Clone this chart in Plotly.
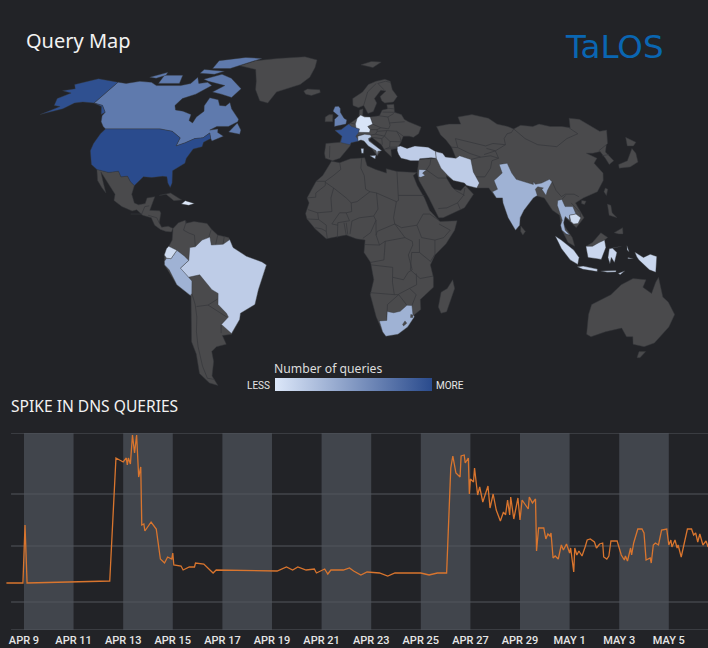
import numpy as np
import plotly.graph_objects as go
from plotly.colors import sample_colorscale
from datetime import datetime, timedelta

# ---- DNS queries line, hours since Apr 9 and relative height (no scale on the original) ----
hours = [-17, -1, 1, 3, 83, 89, 96, 99, 100, 101, 103, 105, 107, 109, 111, 113, 114, 116, 117, 123,
         128, 132, 136, 139, 143, 144, 145, 152, 154, 160, 165, 166, 174, 183, 186, 245, 254, 260, 265, 273,
         281, 283, 291, 294, 297, 309, 315, 319, 326, 332, 344, 352, 359, 384, 392, 400, 409,
         413, 415, 418, 422, 423, 426, 427, 430, 431, 432, 435, 436, 439, 441, 444, 449, 451, 454, 457,
         461, 464, 466, 468, 470, 471, 474, 478, 480, 482, 488, 489, 492, 495, 496, 498, 503, 505, 507, 509,
         510, 512, 514, 517, 520, 522, 525, 528, 529, 532, 533, 535, 537, 540, 543, 545, 548, 552, 554, 557,
         560, 561, 564, 566, 568, 574, 578, 581, 582, 584, 587, 588, 590, 594, 598, 600, 602, 606, 607, 609,
         611, 614, 617, 622, 624, 626, 627, 630, 632, 633, 636, 639, 642, 646, 648, 650, 652, 654, 657, 660, 662]
queries = [47, 47, 105, 47, 49, 172, 168, 172, 165, 172, 166, 195, 177, 195, 153, 163, 105, 106, 99, 108,
           101, 71, 67, 73, 71, 77, 65, 64, 60, 63, 63, 67, 66, 57, 60, 59, 63, 60, 63, 60,
           61, 57, 61, 56, 60, 60, 62, 59, 55, 58, 57, 54, 57, 57, 55, 57, 57,
           162, 174, 157, 153, 174, 175, 167, 172, 136, 151, 148, 162, 135, 143, 128, 144, 122, 136, 120,
           109, 118, 115, 130, 115, 133, 111, 132, 110, 130, 121, 133, 127, 131, 79, 102, 102, 91, 96, 94,
           97, 72, 74, 71, 85, 80, 86, 77, 82, 58, 82, 75, 79, 74, 83, 90, 91, 88, 82, 86,
           87, 73, 71, 74, 89, 89, 75, 70, 74, 69, 82, 75, 87, 101, 101, 97, 70, 72, 67, 85,
           87, 85, 100, 101, 85, 90, 83, 90, 82, 85, 73, 88, 101, 101, 95, 97, 88, 96, 85, 89, 83]
grid_levels = [0, 28, 84, 136, 197]

tick_days = ['2019-04-09', '2019-04-11', '2019-04-13', '2019-04-15', '2019-04-17', '2019-04-19', '2019-04-21',
             '2019-04-23', '2019-04-25', '2019-04-27', '2019-04-29', '2019-05-01', '2019-05-03', '2019-05-05']
tick_labels = ['APR 9', 'APR 11', 'APR 13', 'APR 15', 'APR 17', 'APR 19', 'APR 21',
               'APR 23', 'APR 25', 'APR 27', 'APR 29', 'MAY 1', 'MAY 3', 'MAY 5']
band_starts = tick_days[0::2]
band_ends = tick_days[1::2]

# ---- map outlines, (lon, lat), coarse by hand. Russia and Antarctica are blank on the original ----
canada = [(-141, 69.6), (-135, 69), (-128, 70), (-120, 69.5), (-115, 68), (-108, 68), (-100, 68), (-95, 69), (-94, 72),
          (-90, 69), (-85, 69.5), (-81, 68), (-87, 64), (-93, 62), (-94.5, 59), (-92.5, 57), (-88, 56.5), (-82.5, 55),
          (-82, 52.5), (-79.5, 51.5), (-79, 54), (-76.5, 56.5), (-78, 58.8), (-77.5, 62.4), (-72, 61.5), (-69.5, 59),
          (-66, 58.7), (-64.5, 60.3), (-62, 57.5), (-56, 53), (-56, 52), (-60, 50), (-66, 50), (-69, 48.5), (-65, 49),
          (-64.5, 47.5), (-61, 46), (-66, 44), (-67, 45), (-68.5, 47.3), (-71, 45.3), (-75, 45), (-79, 43.3), (-83, 42),
          (-82.5, 45.3), (-88, 48), (-95, 49), (-123, 49), (-125, 50), (-128, 52), (-130, 54.5), (-130, 56), (-135, 59),
          (-141, 60)]
baffin = [(-80, 73.5), (-72, 71.5), (-62, 66.5), (-65, 62.5), (-72, 64), (-78, 65), (-73, 68), (-85, 70), (-89, 71)]
victoria = [(-117, 73), (-105, 73), (-102, 69), (-115, 69)]
ellesmere = [(-90, 76.5), (-78, 76.5), (-62, 82.5), (-75, 83.2), (-92, 81)]
banks = [(-125, 72), (-117, 74.5), (-116, 73), (-120, 71.5)]
devon = [(-95, 76), (-80, 75), (-85, 73.5), (-95, 74)]
newfoundland = [(-59, 47.7), (-53, 46.8), (-53, 48.5), (-56, 51.5)]
alaska = [(-141, 69.6), (-156.5, 71.3), (-166, 68.5), (-162, 66.5), (-168, 65.6), (-161, 64.5), (-165, 62), (-162, 59),
          (-158, 58.5), (-164, 55), (-155, 57.5), (-152, 60), (-148, 60.5), (-141, 60), (-135, 58.5), (-131, 55),
          (-130, 56), (-135, 59), (-141, 60)]
usa = [(-123, 49), (-95, 49), (-88, 48), (-82.5, 45.3), (-83, 42), (-79, 43.3), (-75, 45), (-71, 45.3), (-68.5, 47.3),
       (-67, 45), (-70, 43.5), (-70, 41.7), (-74, 40.7), (-76, 37), (-76, 35), (-81, 32), (-80, 27), (-80.5, 25.2),
       (-82, 27), (-83, 29.5), (-85, 29.7), (-90, 29.2), (-94, 29.5), (-97.3, 26), (-99.5, 27.5), (-101.5, 29.8),
       (-104.5, 29.5), (-106.5, 31.8), (-111, 31.3), (-117, 32.5), (-120.5, 34.5), (-124, 40), (-124.5, 43), (-124, 47)]
mexico_central = [(-117, 32.5), (-111, 31.3), (-106.5, 31.8), (-104.5, 29.5), (-101.5, 29.8), (-99.5, 27.5), (-97.3, 26),
                  (-97.8, 22.5), (-96, 19), (-94, 18.2), (-91, 18.7), (-90.5, 21), (-87, 21.5), (-88, 18), (-88.5, 16),
                  (-84, 15.8), (-83.3, 14.9), (-83.7, 11), (-82.5, 9.2), (-79.5, 9.6), (-77.3, 8.7), (-78, 7.3),
                  (-80.5, 7.5), (-83, 8.3), (-85.7, 10), (-87.5, 13), (-91.5, 14), (-94.5, 16.2), (-96.5, 15.7),
                  (-101.5, 17.5), (-105.5, 20), (-105.5, 22.5), (-109, 26), (-112.5, 29.5), (-114.7, 31.5), (-112, 27),
                  (-109.8, 23), (-112, 25), (-115, 28)]
greenland = [(-73, 78), (-65, 81), (-50, 82.5), (-30, 83.6), (-20, 81.5), (-20, 77), (-22, 72), (-27, 68.5), (-40, 65),
             (-43, 60), (-48, 61), (-53, 66), (-55, 70), (-60, 76)]
cuba = [(-85, 22), (-80, 23), (-74.5, 20.2), (-78, 19.9), (-82, 22.5)]
hispaniola = [(-74.4, 18.5), (-72.8, 19.9), (-68.5, 18.8), (-71, 18)]

south_america = [(-77.3, 8.7), (-75, 11), (-72, 12), (-71.5, 10.8), (-68, 11.5), (-62, 10.7), (-60, 8.5), (-57, 6), (-52, 5),
                 (-50, 1), (-44, -2.5), (-37, -4.8), (-35, -6), (-37, -11), (-39, -16), (-41, -22), (-48, -25.5),
                 (-48.7, -28), (-53.5, -34), (-58, -34.5), (-57, -38), (-62, -39), (-65, -41), (-65.5, -45), (-69, -51),
                 (-68, -55), (-72, -54), (-75, -50), (-73, -42), (-73.5, -37), (-71.5, -30), (-70, -18.5), (-76, -14),
                 (-81, -6), (-81, -2), (-79, 1.5), (-77.5, 4)]
brazil = [(-73.9, -7.3), (-70, -4.2), (-69.5, 1), (-67, 1.3), (-64, 4), (-60.5, 5.2), (-59.8, 2), (-56, 2), (-54.5, 2.3),
          (-51.5, 4.2), (-50, 1), (-44, -2.5), (-37, -4.8), (-35, -6), (-37, -11), (-39, -16), (-41, -22), (-48, -25.5),
          (-48.7, -28), (-53.5, -33.7), (-57.5, -30), (-53.8, -27), (-54.5, -25.5), (-58, -22), (-57.5, -17.5),
          (-60.2, -16), (-65.3, -10), (-70.5, -11), (-74, -7.5)]
peru = [(-81, -4.5), (-80, -3.3), (-78, -3.5), (-75.3, -0.1), (-72, -2.4), (-70, -4.2), (-73.9, -7.3), (-70.5, -11),
        (-69, -12.5), (-69.5, -17.5), (-70.3, -18.3), (-76, -14), (-79, -8), (-81, -6)]
ecuador = [(-80, -3.3), (-81, -2), (-80, 0.5), (-79, 1.5), (-75.5, 0), (-75.3, -0.1), (-78, -3.5)]

africa = [(-6, 35.8), (-2, 35.2), (3, 36.8), (10, 37.2), (11, 34), (15, 32.5), (20, 31), (20, 32.8), (25, 31.7), (32, 31.2),
          (34.3, 31.2), (32.5, 30), (34, 26), (37, 21), (39, 16), (43, 12), (43.5, 11.5), (51.3, 11.8), (50, 8), (46, 2.5),
          (41, -2), (39, -6), (40.5, -11), (40.7, -15), (35, -20), (35.5, -24), (32.8, -26), (30, -31), (25.7, -34),
          (20, -34.8), (18.3, -33), (15, -27), (12, -18), (13.5, -12), (12, -5), (9, -1), (9.5, 4), (5.5, 4.5), (1, 6),
          (-4, 5.2), (-8, 4.5), (-13, 8.5), (-16.8, 12.5), (-17.5, 14.7), (-16, 19), (-17, 21), (-13, 27.7), (-10, 30)]
south_africa = [(16.5, -28.6), (20, -28.4), (20, -24.8), (23, -25.3), (26, -24.7), (29, -22.3), (31.3, -22.4), (32, -26),
                (32.8, -26.9), (30, -31), (25.7, -34), (20, -34.8), (18.3, -33)]
lesotho = [(27.5, -30), (28.5, -28.6), (29.4, -29.5), (28, -30.6)]
swaziland = [(31, -26), (32, -26.2), (32, -27.2), (31, -27.2)]
madagascar = [(49.3, -12), (50.4, -15.5), (47.5, -24.9), (45, -25.5), (43.5, -23), (44.3, -17), (47, -15.5)]

europe = [(-9, 37), (-9.5, 39), (-9, 43), (-2, 43.5), (-1, 46), (-4.7, 48.4), (-1.5, 48.7), (1.5, 50.5), (4, 52), (8, 54),
          (8.5, 57), (10.5, 57.5), (10, 54.5), (14, 54), (19, 54.5), (21, 57), (24, 57.5), (24, 59.3), (28, 59.5),
          (27.5, 56), (31, 55), (32, 53), (34, 52), (40, 49.8), (38, 47), (35, 45.5), (33, 46), (30, 46), (28, 43), (26, 41),
          (23, 40.5), (23, 37.5), (20, 40), (18.5, 42.5), (14, 45.5), (12.5, 44.5), (18, 40), (16, 38), (12, 43),
          (8.5, 44.5), (3.5, 43.3), (3, 42), (0, 39), (-2, 37), (-5.5, 36)]
scandinavia = [(23, 60), (21.5, 61), (21, 63), (25, 65.5), (22, 65.8), (17.5, 62), (18.5, 60), (16, 56.3), (13, 55.5),
               (11, 59), (8, 58), (5, 59), (5, 62), (11, 65), (15, 68.5), (20, 70), (26, 71), (29, 70), (29, 69), (29, 66),
               (31, 63), (28, 60.5)]
ireland = [(-10, 52), (-6, 52), (-6, 55), (-8, 55), (-10, 54)]
iceland = [(-24, 65.5), (-22, 66.4), (-14.5, 66), (-14, 64.7), (-19, 63.4), (-22.5, 64)]
svalbard = [(12, 78.5), (20, 80.5), (27, 80), (20, 77)]
france = [(-4.7, 48.4), (-1.5, 48.7), (1.5, 50.5), (2.5, 51), (4, 50), (8, 49), (7.5, 47.5), (6, 46), (7.5, 44), (3.5, 43.3),
          (3, 42.5), (-1.7, 43.4), (-1, 46)]
britain = [(-5, 50), (1, 51), (1.5, 52.7), (0, 53.5), (-2, 56), (-2, 57.6), (-3, 58.6), (-5, 58.5), (-6, 56.5), (-3, 54.5),
           (-5, 53), (-5, 51.7)]
germany = [(6, 51), (7, 53.5), (9, 54.8), (11, 54), (14, 54), (15, 51), (12.3, 50), (13.5, 48.7), (13, 47.5), (7.5, 47.6),
           (8, 49), (6.2, 49.5)]
italy = [(7, 44), (7, 46), (10.5, 46.8), (13.5, 46.5), (13.8, 45.7), (12.3, 45), (12.5, 44), (16, 41.7), (18.5, 40),
         (16.5, 39.8), (16, 38), (15.7, 40), (12, 42), (10, 44), (8.5, 44.4)]
sicily = [(12.5, 38), (15.5, 38.2), (15, 36.7)]
sardinia = [(8.3, 41), (9.7, 41), (9.5, 39), (8.5, 39)]

asia = [(53, 41.5), (51, 44.5), (49, 46.5), (48, 50), (55, 51), (61, 51), (61, 54), (69, 55), (77, 53.5), (80, 51), (85, 50),
        (87.5, 49), (92, 50.5), (98, 50), (102, 51), (107, 50), (113, 50), (117, 49.5), (120, 53.5), (125, 53), (131, 48),
        (135, 48.5), (131, 43), (130, 42.5), (127.5, 39.5), (129.5, 36), (126.5, 34.5), (126, 37), (125, 39.7), (121, 39),
        (118, 39), (122, 37), (119.5, 35), (122, 31), (121, 28), (117, 23.5), (110, 21), (106, 19), (109, 13), (105, 9),
        (103, 11), (100, 13.5), (99.5, 10), (103, 5), (104, 1.5), (101, 3), (98.5, 8), (98, 14), (95, 16), (92, 21), (88, 22),
        (82, 16), (80, 13), (79.5, 10), (77.5, 8), (74, 15), (72.8, 21), (70, 21), (67, 25), (61, 25), (57, 26), (56, 27),
        (51, 28), (48, 30), (48, 29), (50, 25.5), (51, 24.5), (54, 24), (56.3, 26), (59.7, 22.5), (55, 17), (45, 13), (43, 13),
        (39, 21), (35, 28), (34.5, 31), (36, 36.5), (44, 37), (44.7, 39.7), (48, 39), (49, 37.5), (54, 37)]
turkey = [(26, 40), (26.3, 41.7), (28, 42), (31, 41), (35, 42), (41.5, 41.5), (44.7, 39.7), (44.5, 37), (42, 37.2),
          (36.5, 36.8), (36, 36), (32, 36), (30, 36.5), (27.5, 37), (26.5, 38.5)]
iran = [(44.7, 39.7), (48, 39), (49, 37.5), (54, 37), (56, 38), (61, 36.5), (61, 31.5), (63, 27), (61.5, 25), (57, 26), (56, 27),
        (51, 28), (48.7, 30), (46, 33), (44.5, 37)]
jordan = [(35, 29.5), (35.5, 32.5), (39, 32.3), (37, 31), (38, 30), (36, 29.3)]
india = [(74, 34.5), (78, 35), (79, 31), (80.5, 28.5), (88, 26.4), (88.2, 27.5), (89, 26.5), (92, 27), (96, 28.5), (97, 27.5),
         (94, 24), (93, 22), (91.5, 24.5), (92.3, 25), (89.8, 25.5), (88.5, 24.5), (89, 22), (87, 21), (82, 16), (80, 13),
         (79.5, 10), (77.5, 8), (74.5, 13), (72.8, 19), (72.8, 21), (70, 21), (68.5, 23.5), (71, 24.5), (70, 28), (74.5, 31)]
thailand = [(98, 10), (99, 12), (98.2, 15), (97.5, 18), (98, 20), (100, 20.4), (101, 17.5), (104.5, 17.5), (105.5, 14.5),
            (102.5, 14), (102.3, 12), (100.5, 13.5), (99.5, 11), (100, 8), (102, 6), (100.3, 6.5), (98.5, 8)]
cambodia = [(102.5, 14), (105.5, 14.5), (107.5, 13), (106, 10.7), (104, 10.5), (102.8, 11.5)]
sumatra = [(95.3, 5.6), (98, 4), (103.5, 0), (106, -3), (105.5, -5.8), (102, -4), (98, 0.5)]
java = [(105.3, -6.8), (108, -6.5), (114.5, -7.7), (114.5, -8.7), (108, -7.8)]
kalimantan = [(109, 1.5), (112, 1.5), (115, 3), (117.5, 4), (118, 1), (116, -3.8), (114, -3.5), (110, -3)]
sabah_sarawak = [(109, 1.5), (112, 3), (116, 7), (119, 5), (117.5, 4), (115, 3), (112, 1.5)]
sulawesi = [(119.5, 0.5), (125, 1.5), (121, 0.7), (123, -1), (122, -5), (120.5, -3), (120, -5.5), (119, -3)]
papua = [(131, -0.8), (135, -3), (138, -1.7), (141, -2.6), (141, -9), (138, -8), (133, -4), (132, -2.8)]
sunda = [(116, -8.5), (119, -8.3), (123, -8.3), (123, -8.9), (119, -9)]
timor = [(124, -9.5), (127, -8.4), (125, -10)]
halmahera = [(127.5, 1.8), (128.5, -0.8), (127.5, 0)]
seram = [(128, -3), (130.5, -3.5), (128, -3.5)]
luzon = [(120.5, 18.5), (122, 18), (122, 15), (124, 13), (120.5, 14)]
mindanao = [(122, 7), (126, 9), (126, 6.5), (124, 6.5)]
honshu = [(130.5, 33), (131, 34.5), (136, 36), (140, 40), (141.5, 41), (142, 39), (140.8, 35.5), (136, 33.5)]
hokkaido = [(140, 42), (142, 45.5), (145.5, 43.5), (143, 42)]
taiwan = [(121, 25), (122, 24.5), (120.8, 22), (120, 23.5)]
sri_lanka = [(80, 9.7), (82, 7.5), (80.7, 6), (79.8, 7.5)]
hainan = [(109, 20), (111, 19.7), (110, 18.3), (108.7, 18.7)]
australia = [(114, -22), (113.5, -26), (115.5, -34), (118, -35), (124, -33), (131, -31.5), (135, -35), (138, -35), (140, -38),
             (146, -39), (150, -37.5), (153, -31), (153.5, -26), (149, -21), (146, -19), (142.5, -11), (141.5, -13),
             (140.5, -17.5), (136, -15), (137, -12), (131, -11.5), (126, -14), (122, -18)]
tasmania = [(145, -41), (148.3, -41), (147.5, -43.5), (146, -43.5)]

# inner borders of the grey countries
borders = [
    [(-71.5, 11.5), (-72.5, 8), (-70, 6.8), (-67.5, 6), (-67, 1.3)], [(-60, 8.3), (-61, 5.2)], [(-57, 6), (-58, 1.5)],
    [(-54, 5.7), (-54.5, 2.3)], [(-69.5, -17.5), (-68.5, -22), (-68.5, -27), (-70, -33), (-71, -39), (-72, -47), (-72, -52), (-68.5, -52.5)],
    [(-68, -22.8), (-62.6, -22.2), (-58, -19.8)], [(-62.6, -22.2), (-57.7, -25.2), (-54.6, -27)], [(-58.4, -33.5), (-57.7, -30.2)],
    [(-97, 14.5), (-92, 14.5), (-91, 17.5), (-89, 17.8)], [(-89, 14), (-85, 13), (-83.7, 11)],
    [(-2, 35), (-1.5, 32.5), (-5, 30), (-8.7, 27.7), (-8.7, 26)], [(-13, 27.7), (-8.7, 27.7)],
    [(-8.7, 27.3), (-4.8, 25), (-6, 21), (-5.5, 15.5), (-12, 15), (-16.5, 16.3)], [(-17, 21), (-13, 21.3), (-13, 23), (-8.7, 26)],
    [(8.5, 37), (8, 33), (9.5, 30), (10, 24.5)], [(-4.8, 25), (1, 21), (3.3, 19), (6, 19.5), (12, 23.5), (10, 24.5)],
    [(25, 31.7), (25, 20), (24, 19.5), (15, 23), (12, 23.5)], [(25, 22), (37, 22)], [(15, 23), (15.5, 16.5), (13.5, 13.7)],
    [(24, 19.5), (22.5, 13), (23, 10.5)], [(3.3, 19), (3.5, 15.5), (1, 15), (-2, 15), (-5.5, 10.5)],
    [(3.6, 11.7), (7, 13), (13.5, 13.7), (14.5, 12), (12, 7), (8.5, 4.7)], [(2.7, 6.4), (3.6, 11.7)],
    [(14.5, 6), (16, 2), (18.5, 3.5), (27.5, 5), (23, 10.5), (15, 7.5), (14.5, 6), (14.5, 12)],
    [(9.5, 2.2), (16, 2)], [(12, -5), (18, -4), (18.6, 3.5)],
    [(12.2, -6), (22, -7), (22, -11), (27, -12), (29, -9), (30.8, -8), (29, -2), (31, 2), (30.8, 3.5), (27.5, 5)],
    [(23, 10.5), (26, 9), (33, 10), (36, 14.5), (39, 14.5), (43, 12)], [(33, 10), (35, 5), (41, 4), (45, 5), (48, 8), (43, 10.5)],
    [(34, 4.4), (34, -1), (39, -4.6), (41, -1.7), (41, 4)], [(34, -1), (30.5, -1), (30, -8), (34.5, -11.5), (40.4, -10.5)],
    [(12, -17.2), (23, -18), (22, -13), (22, -11)], [(23, -18), (25, -18), (20, -22), (20, -28.4)], [(25, -18), (29, -22.3)],
    [(25, -17.8), (30, -15.6), (33, -14), (32.7, -9.5)], [(30, -15.6), (33, -18), (31.3, -22.4)],
    [(-12, 15), (-11.5, 12.3), (-16.8, 12.5)], [(-11.5, 12.3), (-8, 10), (-8, 7.5), (-7.5, 4.5)], [(-13, 9), (-10, 8.5), (-8, 7.5)],
    [(-3, 5), (-2.8, 11), (2.5, 11.8), (1, 15)], [(-5.5, 10.5), (-2.8, 10)], [(1, 6), (0, 11)], [(1.7, 6.2), (1, 11)],
    [(-7, 42), (-7, 37.2)], [(3.5, 51.4), (6, 51)], [(14, 54), (15, 51), (19, 49.5), (23, 49), (24, 50.5), (23.5, 54), (19, 54.5)],
    [(12.3, 50), (15, 51)], [(19, 49.5), (17, 48.7), (13.5, 48.7)], [(9.6, 47.5), (13, 47.5)], [(17, 48.7), (17, 48), (16, 46.8), (13.5, 46.5)],
    [(6, 46), (10.5, 46.8)], [(17, 48), (22, 48.3), (20.5, 46), (16, 46.8)], [(22, 48.3), (27, 48), (28.3, 45.5), (28.5, 43.7), (23, 43.8), (20.5, 46)],
    [(23, 43.8), (22.5, 41.5), (26, 41.5), (28, 42)], [(24, 51.5), (32, 52)], [(27, 48), (30, 46)], [(21, 56.1), (28, 56)], [(24, 57.8), (27.5, 57.5)],
    [(23.5, 54), (27, 55.5)], [(14, 45.5), (19, 45), (20.5, 46)], [(19, 45), (19, 42.5)], [(22.5, 41.5), (20.5, 41), (19.5, 40.5)], [(20.5, 40.8), (26, 41)],
    [(20, 69), (14, 65), (12, 61), (11, 59)], [(24, 66), (21, 69)], [(21, 69), (26, 70), (29, 69.5)],
    [(53, 41.5), (56, 41.3), (56, 45), (61, 44), (66, 43), (70, 42), (74, 43), (80, 42.5), (80.5, 45), (83, 47), (85.5, 47.5), (87.5, 49)],
    [(56, 41.3), (61, 39), (66, 37.5)], [(61, 36.5), (65, 37.3), (71, 38), (74.5, 37), (71, 36), (69.5, 33), (66, 29.5), (61, 29.5)],
    [(74.5, 37), (74, 40), (80, 42.5)], [(70, 41), (74, 40), (68, 38.5)], [(87.5, 49), (91, 45), (96, 42.5), (105, 41.7), (112, 45), (119, 47), (116, 49.8)],
    [(97, 27.5), (98, 24), (100, 21.5), (102, 22.5), (106, 22.5), (108, 21.5)], [(100, 20.4), (102, 22)], [(104, 19), (107.5, 15), (107.5, 13)],
    [(124.5, 40), (130, 42.5)], [(125, 38), (128.5, 38.5)], [(35, 29.5), (39, 32.3), (44, 29), (48, 29)], [(39, 32.3), (41, 34.5), (42, 37.2)],
    [(43, 16.7), (47, 17), (52, 19), (53, 16.5)], [(52, 19), (55, 22), (56, 25)], [(51.5, 24), (55.5, 22)], [(100, 6.5), (102, 6)],
]

grey_land = [mexico_central, greenland, cuba, south_america, africa, madagascar, europe, scandinavia, ireland, iceland, svalbard,
             asia, sabah_sarawak, luzon, mindanao, honshu, hokkaido, taiwan, sri_lanka, hainan, australia, tasmania]
grey_top = [lesotho, swaziland]

# level of each queried area on the colour scale, 0 = less, 1 = more
queried_areas = [canada, baffin, victoria, ellesmere, banks, devon, newfoundland, alaska, usa, brazil, peru, ecuador, south_africa,
                 france, britain, germany, italy, sicily, sardinia, turkey, iran, jordan, india, thailand, cambodia,
                 sumatra, java, kalimantan, sulawesi, papua, sunda, timor, halmahera, seram, hispaniola]
query_levels = [0.7, 0.7, 0.7, 0.7, 0.7, 0.7, 0.7, 0.97, 1.0, 0.17, 0.34, 0.08, 0.34,
                0.95, 0.65, 0.02, 0.2, 0.2, 0.2, 0.17, 0.17, 0.3, 0.34, 0.34, 0.08,
                0.1, 0.1, 0.1, 0.1, 0.1, 0.1, 0.1, 0.1, 0.1, 0.0]

query_scale = [[0, '#dce7f9'], [1, '#2a4b8d']]
bg_color = '#222327'
land_color = '#4a4a4c'
border_color = '#35373b'
band_color = '#41454c'
grid_color = '#53565c'
line_color = '#d9752e'

W, H = 708, 648
# PLEN / PDFE of the Robinson projection, every 5 degrees
rob_lat = np.arange(0, 95, 5)
rob_plen = [1, .9986, .9954, .99, .9822, .973, .96, .9427, .9216, .8962, .8679, .835, .7986, .7597, .7186, .6732, .6213, .5722, .5322]
rob_pdfe = [0, .062, .124, .186, .248, .31, .372, .434, .4958, .5571, .6176, .6769, .7346, .7903, .8435, .8936, .9394, .9761, 1]


def robinson(ring, close=True):
    pts = list(ring) + [ring[0]] if close else list(ring)
    lon = np.array([p[0] for p in pts], dtype=float)
    lat = np.array([p[1] for p in pts], dtype=float)
    x = lon * np.interp(np.abs(lat), rob_lat, rob_plen)
    y = np.sign(lat) * np.interp(np.abs(lat), rob_lat, rob_pdfe)
    return x, y


fig = go.Figure()

for ring in grey_land:
    x, y = robinson(ring)
    fig.add_trace(go.Scatter(x=x, y=y, mode='lines', fill='toself', fillcolor=land_color,
                             line=dict(color=border_color, width=0.5), hoverinfo='skip', showlegend=False))

for line in borders:
    x, y = robinson(line, close=False)
    fig.add_trace(go.Scatter(x=x, y=y, mode='lines', line=dict(color=border_color, width=0.7),
                             hoverinfo='skip', showlegend=False))

for ring, level in zip(queried_areas, query_levels):
    x, y = robinson(ring)
    color = sample_colorscale(query_scale, [level])[0]
    fig.add_trace(go.Scatter(x=x, y=y, mode='lines', fill='toself', fillcolor=color,
                             line=dict(color=border_color, width=0.4), hoverinfo='skip', showlegend=False))

for ring in grey_top:
    x, y = robinson(ring)
    fig.add_trace(go.Scatter(x=x, y=y, mode='lines', fill='toself', fillcolor=land_color,
                             line=dict(color=border_color, width=0.4), hoverinfo='skip', showlegend=False))

# point outside the range, only there to carry the colour bar
fig.add_trace(go.Scatter(x=[0], y=[-5], mode='markers', hoverinfo='skip', showlegend=False,
                         marker=dict(color=[0], cmin=0, cmax=1, colorscale=query_scale, showscale=True,
                                     colorbar=dict(orientation='h', x=275 / W, xanchor='left', y=1 - 391 / H, yanchor='bottom',
                                                   len=157, lenmode='pixels', thickness=13, thicknessmode='pixels',
                                                   showticklabels=False, ticks='', outlinewidth=0, xpad=0, ypad=0))))

base_day = datetime(2019, 4, 9)
dates = [base_day + timedelta(hours=h) for h in hours]
fig.add_trace(go.Scatter(x=dates, y=queries, xaxis='x2', yaxis='y2', mode='lines',
                         line=dict(color=line_color, width=1.3), hoverinfo='skip', showlegend=False))

shapes = []
for start, end in zip(band_starts, band_ends):
    shapes.append(dict(type='rect', xref='x2', yref='y2', x0=start, x1=end, y0=0, y1=197,
                       fillcolor=band_color, line_width=0, layer='below'))
for level in grid_levels:
    shapes.append(dict(type='line', xref='x2', yref='y2', x0=base_day - timedelta(hours=12.5), x1=base_day + timedelta(days=27.6),
                       y0=level, y1=level, line=dict(color=grid_color, width=1), layer='below'))


def text(x, y, s, size, color, family='Noto Sans', anchor='left'):
    return dict(x=x / W, y=1 - y / H, xref='paper', yref='paper', text=s, showarrow=False, xanchor=anchor, yanchor='middle',
                font=dict(size=size, color=color, family=family))


annotations = [
    text(24, 40, 'Query Map', 20, '#f2f2f2'),
    text(563, 47, 'TaLOS', 32.5, '#0a66b2', family='DejaVu Sans'),
    text(272, 368, 'Number of queries', 12.2, '#dddddd'),
    text(272, 385, 'LESS', 10, '#e6e6e6', family='Roboto', anchor='right'),
    text(434, 385, 'MORE', 10, '#e6e6e6', family='Roboto'),
    text(9, 406, 'SPIKE IN DNS QUERIES', 15.6, '#f2f2f2'),
]

fig.update_layout(
    width=W, height=H, margin=dict(l=0, r=0, t=0, b=0),
    paper_bgcolor=bg_color, plot_bgcolor=bg_color, shapes=shapes, annotations=annotations,
    xaxis=dict(visible=False, range=[-344 / 2.22, (W - 344) / 2.22], domain=[0, 1], anchor='y', fixedrange=True),
    yaxis=dict(visible=False, range=[-0.75, 1.25], domain=[1 - 400 / H, 1], anchor='x', fixedrange=True),
    xaxis2=dict(type='date', domain=[0, 1], anchor='y2', showgrid=False, zeroline=False, showline=False, ticks='',
                range=[base_day - timedelta(hours=23.2), base_day + timedelta(days=27.58)],
                tickmode='array', tickvals=tick_days, ticktext=tick_labels, ticklabelstandoff=2,
                tickfont=dict(family='Roboto', size=11, color='#e6e6e6', weight=500)),
    yaxis2=dict(domain=[1 - 630 / H, 1 - 433 / H], anchor='x2', range=[0, 197], showgrid=False, zeroline=False,
                showticklabels=False, ticks=''),
)

fig.write_html("out.html", config={'displayModeBar': False},
               post_script="document.body.style.margin='0';document.body.style.background='#222327';")
